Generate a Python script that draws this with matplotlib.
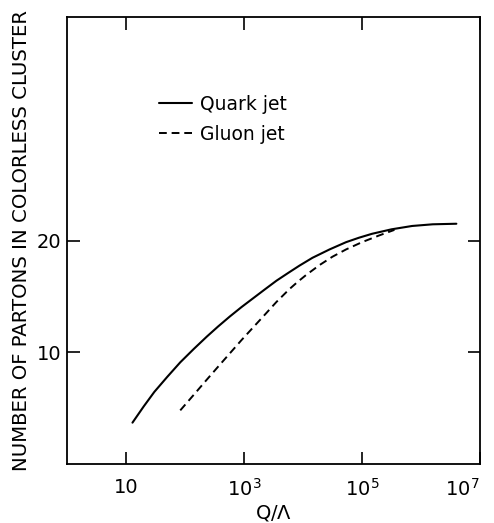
import numpy as np
import matplotlib
matplotlib.use('Agg')
import matplotlib.pyplot as plt

# 数据 (从图中读取, 横轴为 log10(Q/Λ))
quark_logq = [1.11, 1.30, 1.48, 1.70, 1.92, 2.15, 2.37, 2.56, 2.76, 2.96, 3.16, 3.36, 3.55, 3.75,
              3.94, 4.16, 4.45, 4.73, 4.95, 5.17, 5.50, 5.85, 6.20, 6.60]
quark_n = [3.7, 5.15, 6.45, 7.8, 9.1, 10.3, 11.4, 12.3, 13.2, 14.05, 14.85, 15.65, 16.4, 17.1,
           17.75, 18.45, 19.2, 19.85, 20.25, 20.6, 21.0, 21.3, 21.45, 21.5]

gluon_logq = [1.92, 2.15, 2.37, 2.56, 2.76, 2.96, 3.16, 3.36, 3.55, 3.77, 3.91, 4.05,
              4.28, 4.50, 4.73, 5.00, 5.29, 5.55]
gluon_n = [4.8, 6.2, 7.55, 8.7, 9.9, 11.1, 12.25, 13.4, 14.5, 15.65, 16.3, 16.9,
           17.8, 18.55, 19.2, 19.85, 20.45, 20.95]

xtick_vals = [1e1, 1e3, 1e5, 1e7]
xtick_labels = ['10', r'$10^3$', r'$10^5$', r'$10^7$']
ytick_vals = [10, 20]

plt.rcParams['font.family'] = ['DejaVu Sans']
plt.rcParams['mathtext.fontset'] = 'dejavusans'

fig = plt.figure(figsize=(4.94, 5.23), dpi=100)
ax = fig.add_axes([0.1356, 0.1128, 0.836, 0.8547])

ax.plot(10 ** np.array(quark_logq), quark_n, color='black', lw=1.5, label='Quark jet',
        solid_capstyle='round', solid_joinstyle='round')
ax.plot(10 ** np.array(gluon_logq), gluon_n, color='black', lw=1.4,
        dashes=(4, 2.5), label='Gluon jet')

ax.set_xscale('log')
ax.set_xlim(1, 1e7)
ax.set_ylim(0, 40)

ax.set_xticks(xtick_vals)
ax.set_xticklabels(xtick_labels, fontsize=14)
ax.minorticks_off()
ax.set_yticks(ytick_vals)
ax.set_yticklabels([str(v) for v in ytick_vals], fontsize=14)
ax.tick_params(direction='in', length=9, width=1.2, top=True, right=True)
ax.tick_params(axis='x', pad=10)
ax.tick_params(axis='y', pad=4)
# 最右侧 10^7 往左挪一点，避免被裁掉
ax.get_xticklabels()[-1].set_horizontalalignment('right')
for s in ax.spines.values():
    s.set_linewidth(1.3)

ax.set_xlabel(r'Q/$\Lambda$', fontsize=14, labelpad=2)
ax.set_ylabel('NUMBER OF PARTONS IN COLORLESS CLUSTER', fontsize=14.2, labelpad=4)

ax.legend(loc='upper left', bbox_to_anchor=(0.2, 0.847), frameon=False, fontsize=13.5,
          handlelength=1.75, handletextpad=0.45, labelspacing=0.6, borderpad=0)

fig.savefig('out.png', dpi=100)
